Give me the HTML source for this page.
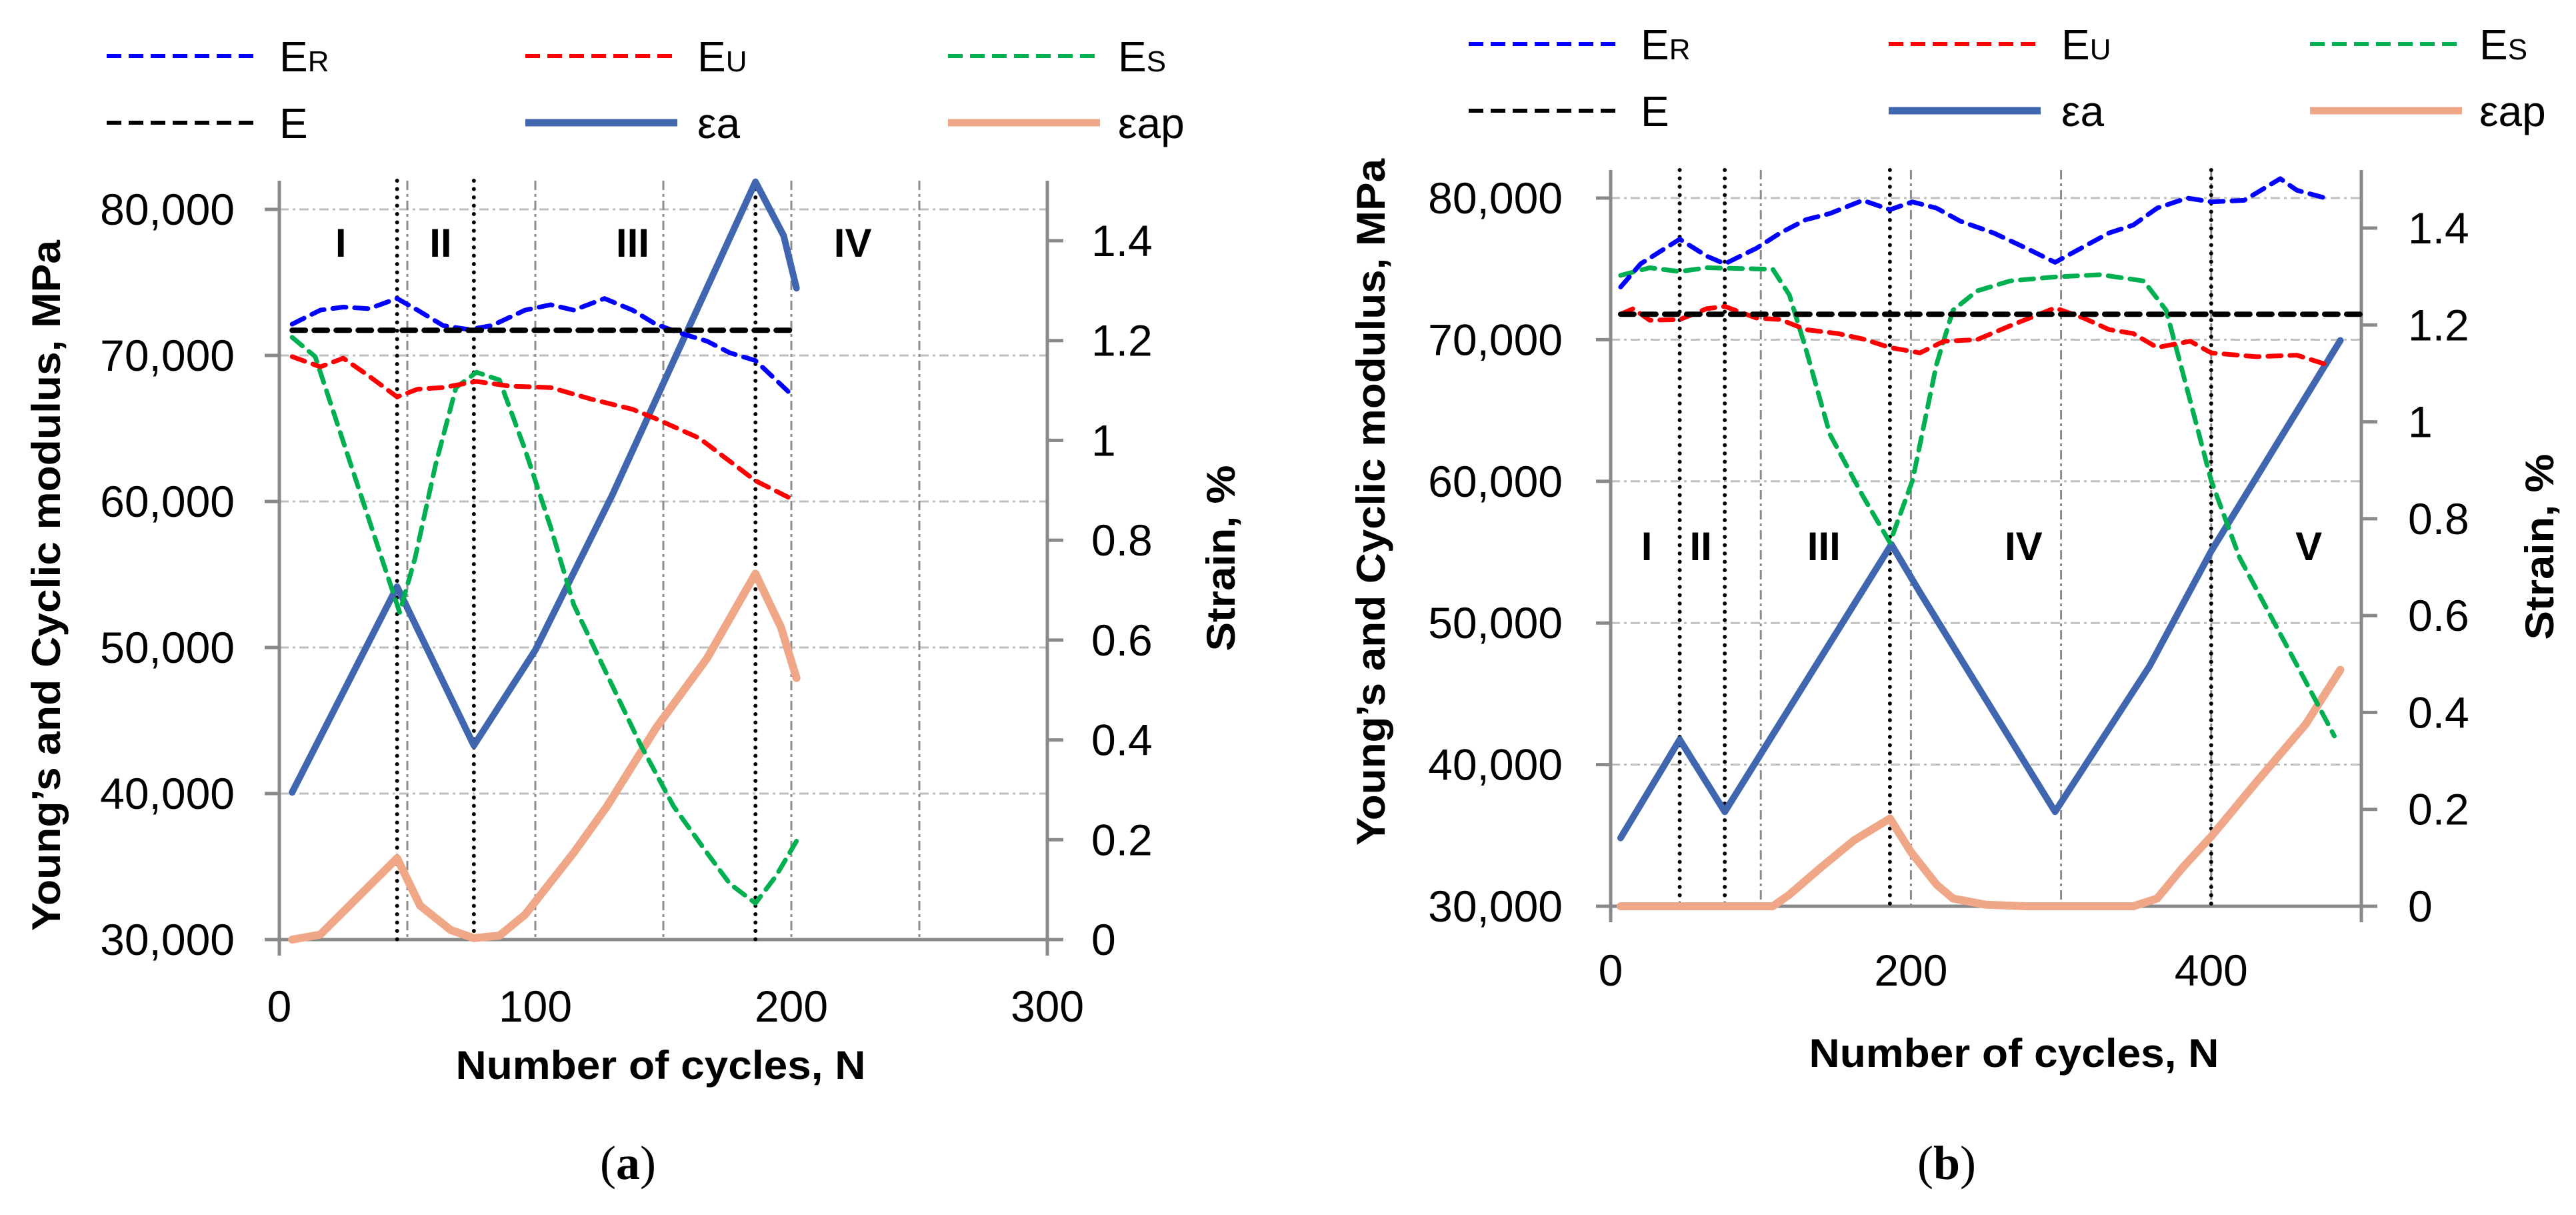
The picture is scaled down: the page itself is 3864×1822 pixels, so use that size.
<!DOCTYPE html>
<html><head><meta charset="utf-8"><style>
html,body{margin:0;padding:0;background:#fff;}
svg{display:block;}
text{font-family:"Liberation Sans",sans-serif;fill:#000;}
</style></head><body>
<svg id="fig" width="3864" height="1822" viewBox="0 0 3864 1822" xmlns="http://www.w3.org/2000/svg"></svg>
<script>
// ===== Chart (a) data =====
const aER_N=[5,16,25,35,46,54,64,74,83,96,106,115,127,138,147,157,167,176,186,194,201];
const aER_V=[72140,73100,73310,73200,73900,73100,72040,71770,72040,73100,73470,73100,73900,73100,72140,71500,70980,70180,69650,68320,67160];
const aEU_N=[5,16,25,35,46,54,64,77,90,106,122,138,147,164,176,186,201];
const aEU_V=[69920,69220,69810,68590,67160,67690,67800,68220,67900,67800,67000,66310,65670,64340,62750,61420,60100];
const aES_N=[5,14,22,32,41,47,53,61,69,77,86,96,106,115,128,141,154,167,176,186,194,202];
const aES_V=[71240,69920,65670,60360,55580,52400,56110,62480,67800,68850,68320,63550,58240,52930,48150,43380,39130,35950,33820,32490,34350,36740];
const aE_N=[5,202];
const aE_V=[71720,71720];
const aEa_N=[5,46,76,100,130,186,197,202];
const aEa_V=[0.295,0.707,0.389,0.58,0.89,1.518,1.41,1.305];
const aEap_N=[5,16,46,55,67,76,86,96,115,128,147,167,186,196,202];
const aEap_V=[0,0.01,0.163,0.068,0.019,0.003,0.008,0.05,0.174,0.267,0.423,0.563,0.733,0.625,0.524];
const aMarkers=[46,76,186];
const aRegions=["I","II","III","IV"];
const aRegionN=[24,63,138,224];
const aXTicks=[0,100,200,300];
const aYTicks=[30000,40000,50000,60000,70000,80000];
const aSTicks=[0,0.2,0.4,0.6,0.8,1,1.2,1.4];
const aSLabels=["0","0.2","0.4","0.6","0.8","1","1.2","1.4"];

// ===== Chart (b) data =====
const bER_N=[6.6,20,46,64,76,97,113,130,146,168,186,201,217,233,255,277,296,315,332,348,364,384,400,422,446,457,476];
const bER_V=[73720,75360,77100,75900,75360,76450,77540,78470,78910,79840,79180,79730,79290,78360,77540,76450,75460,76560,77540,78090,79290,80000,79730,79840,81370,80550,80000];
const bEU_N=[6.6,15,26,46,64,76,97,113,130,151,168,186,206,222,244,266,296,315,332,348,364,386,400,430,457,480];
const bEU_V=[71800,72190,71370,71420,72190,72350,71530,71420,70710,70440,70050,69450,69070,69890,70000,70980,72240,71530,70710,70440,69450,69890,69070,68800,68910,68140];
const bES_N=[6.6,26,46,64,108,119,130,146,168,186,201,217,228,244,266,296,326,355,370,381,400,419,441,463,482];
const bES_V=[74540,75080,74810,75080,74970,73170,69340,63330,58960,55680,60050,68250,72080,73440,74150,74430,74590,74150,72080,67700,60050,54590,50220,45850,42020];
const bE_N=[6.6,500];
const bE_V=[71800,71800];
const bEa_N=[6.6,46,76,187,206,233,296,359,400,486];
const bEa_V=[0.141,0.344,0.195,0.747,0.648,0.512,0.195,0.496,0.733,1.168];
const bEap_N=[6.6,108,119,140,162,186,200,217,228,250,277,348,364,381,400,430,463,486];
const bEap_V=[0,0,0.024,0.08,0.136,0.181,0.112,0.045,0.016,0.003,0,0,0.016,0.08,0.144,0.256,0.376,0.488];
const bMarkers=[46,76,186,400];
const bRegions=["I","II","III","IV","V"];
const bRegionN=[24,60,142,275,465];
const bXTicks=[0,200,400];
const bYTicks=[30000,40000,50000,60000,70000,80000];
const bSTicks=[0,0.2,0.4,0.6,0.8,1,1.2,1.4];
const bSLabels=["0","0.2","0.4","0.6","0.8","1","1.2","1.4"];

const NS="http://www.w3.org/2000/svg";
const fig=document.getElementById('fig');
function mk(tag,attrs,parent){const e=document.createElementNS(NS,tag);for(const k in attrs)e.setAttribute(k,attrs[k]);(parent||fig).appendChild(e);return e;}
function fmt(v){return v.toLocaleString('en-US');}

function drawChart(c){
  const g=mk('g',{});
  
  
  const X=n=>c.x0+(n-c.xmin)*(c.x1-c.x0)/(c.xmax-c.xmin);
  const Y=v=>c.y0-(v-30000)*(c.y0-c.y80)/50000;
  const S=s=>c.y0-s*(c.y0-c.s14)/1.4;
  c.yTicks.forEach(v=>{if(v>30000){const l=mk('line',{x1:c.x0,x2:c.x1,y1:Y(v),y2:Y(v),stroke:'#bfbfbf','stroke-width':3,'stroke-dasharray':'14 6 4 6'},g);
    
    }});
  for(let n=c.xmin+c.minorStep;n<c.xmax;n+=c.minorStep){const l=mk('line',{x1:X(n),x2:X(n),y1:c.top,y2:c.y0,stroke:'#8c8c8c','stroke-width':3,'stroke-dasharray':'14 6 4 6'},g);
    
    }
  const ax=mk('path',{d:`M${c.x0},${c.top}V${c.y0+24}M${c.x1},${c.top}V${c.y0+24}M${c.x0-22},${c.y0}H${c.x1}`,stroke:'#898989','stroke-width':5,fill:'none'},g);
  
  
  c.yTicks.forEach(v=>{mk('line',{x1:c.x0-22,x2:c.x0,y1:Y(v),y2:Y(v),stroke:'#898989','stroke-width':5},g);
    const t=mk('text',{x:c.ylabX,y:Y(v)+23,'text-anchor':'end','font-size':66},g);t.textContent=fmt(v);
    
    });
  c.sTicks.forEach((s,i)=>{mk('line',{x1:c.x1,x2:c.x1+24,y1:S(s),y2:S(s),stroke:'#898989','stroke-width':5},g);
    const t=mk('text',{x:c.slabX,y:S(s)+23,'font-size':66},g);t.textContent=c.sLabels[i];
    
    });
  c.xTicks.forEach(n=>{const t=mk('text',{x:X(n),y:c.xlabY,'text-anchor':'middle','font-size':66},g);t.textContent=n;
    
    });
  c.markers.forEach(n=>{const l=mk('line',{x1:X(n),x2:X(n),y1:c.top,y2:c.y0,stroke:'#000','stroke-width':6,'stroke-linecap':'round','stroke-dasharray':'0 12.5'},g);
    
    });
  c.regions.forEach((r,i)=>{const t=mk('text',{x:X(c.regionN[i]),y:c.regionY,'text-anchor':'middle','font-size':60,'font-weight':'bold'},g);t.textContent=r;
    
    });
  function line(Ns,Vs,fn,col,w,dash,name){
    const d=Ns.map((n,i)=>(i?'L':'M')+X(n).toFixed(1)+','+fn(Vs[i]).toFixed(1)).join('');
    const p=mk('path',{d:d,fill:'none',stroke:col,'stroke-width':w,'stroke-linejoin':'round','stroke-linecap':'round'},g);
    if(dash)p.setAttribute('stroke-dasharray',dash);
    
    }
  line(c.ap[0],c.ap[1],S,'#f0a787',12,null,'eap-line');
  line(c.ea[0],c.ea[1],S,'#4066b0',10,null,'ea-line');
  line(c.es[0],c.es[1],Y,'#00b050',7,'20 13','es-line');
  line(c.eu[0],c.eu[1],Y,'#ff0000',7,'20 13','eu-line');
  line(c.er[0],c.er[1],Y,'#0000ff',7,'20 13','er-line');
  line(c.e[0],c.e[1],Y,'#000000',8,'20 13','e-line');
  let t=mk('text',{x:c.xtX,y:c.xtY,'text-anchor':'middle','font-size':60,'font-weight':'bold',textLength:c.xtW,lengthAdjust:'spacingAndGlyphs'},g);t.textContent='Number of cycles, N';
  
  
  t=mk('text',{x:0,y:0,'text-anchor':'middle','font-size':60,'font-weight':'bold',textLength:c.ytW,lengthAdjust:'spacingAndGlyphs',transform:`translate(${c.ytX},${c.ytY}) rotate(-90)`},g);t.textContent='Young\u2019s and Cyclic modulus, MPa';
  
  
  t=mk('text',{x:0,y:0,'text-anchor':'middle','font-size':60,'font-weight':'bold',textLength:c.stW,lengthAdjust:'spacingAndGlyphs',transform:`translate(${c.stX},${c.stY}) rotate(-90)`},g);t.textContent='Strain, %';
  
  
  t=mk('text',{x:c.capX,y:c.capY,'text-anchor':'middle','font-size':72,style:'font-family:"Liberation Serif",serif'},g);
  t.innerHTML='(<tspan font-weight="bold">'+c.cap+'</tspan>)';
  
  
  const leg=[['E','R','#0000ff',6,'22 11'],['E','U','#ff0000',6,'22 11'],['E','S','#00b050',6,'22 11'],['E','','#000',6,'22 11'],['εa','','#4066b0',11,null],['εap','','#f0a787',11,null]];
  leg.forEach((L,i)=>{const row=Math.floor(i/3),col=i%3;const y=c.legY[row];
    const lg=mk('g',{},g);
    
    
    const l=mk('line',{x1:c.legLX[col],x2:c.legLX[col]+228,y1:y,y2:y,stroke:L[2],'stroke-width':L[3]},lg);
    if(L[4])l.setAttribute('stroke-dasharray',L[4]);
    const tx=mk('text',{x:c.legTX[col],y:y+23,'font-size':64},lg);
    tx.innerHTML=L[0]+(L[1]?'<tspan font-size="44">'+L[1]+'</tspan>':'');});
}

drawChart({id:'a',xmin:0,xmax:300,x0:419,x1:1571,y0:1409,y80:314,s14:361,top:271,minorStep:50,
  yTicks:aYTicks,sTicks:aSTicks,sLabels:aSLabels,xTicks:aXTicks,markers:aMarkers,regions:aRegions,regionN:aRegionN,regionY:385,
  ylabX:352,slabX:1637,xlabY:1532,
  er:[aER_N,aER_V],eu:[aEU_N,aEU_V],es:[aES_N,aES_V],e:[aE_N,aE_V],ea:[aEa_N,aEa_V],ap:[aEap_N,aEap_V],
  xtX:991,xtY:1618,xtW:615,ytX:90,ytY:878,ytW:1036,stX:1852,stY:837,stW:279,capX:942,capY:1768,cap:'a',
  legY:[84,184],legLX:[160,788,1422],legTX:[419,1046,1677]});
drawChart({id:'b',xmin:0,xmax:500,x0:2416,x1:3542,y0:1359,y80:297,s14:342,top:255,minorStep:100,
  yTicks:bYTicks,sTicks:bSTicks,sLabels:bSLabels,xTicks:bXTicks,markers:bMarkers,regions:bRegions,regionN:bRegionN,regionY:840,
  ylabX:2344,slabX:3612,xlabY:1478,
  er:[bER_N,bER_V],eu:[bEU_N,bEU_V],es:[bES_N,bES_V],e:[bE_N,bE_V],ea:[bEa_N,bEa_V],ap:[bEap_N,bEap_V],
  xtX:3021,xtY:1600,xtW:615,ytX:2077,ytY:753,ytW:1030,stX:3830,stY:820,stW:279,capX:2920,capY:1768,cap:'b',
  legY:[66,166],legLX:[2203,2833,3465],legTX:[2461,3092,3719]});
</script>
</body></html>
